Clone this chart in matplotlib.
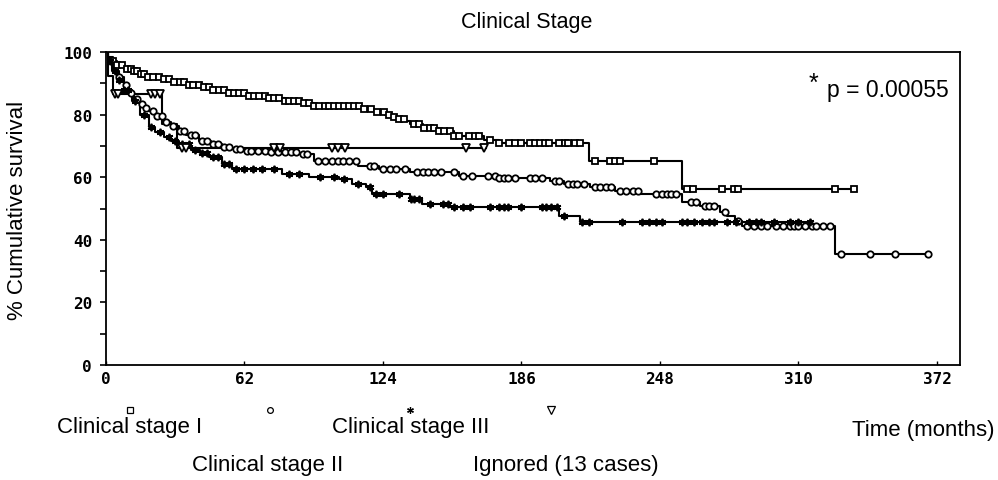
import numpy as np
import matplotlib
matplotlib.use("Agg")
import matplotlib.pyplot as plt
from matplotlib.lines import Line2D

# ---------------- data ----------------
# Kaplan-Meier step curves: event times (months) and survival (%) after each step
stage1_t = [0, 1, 3, 5, 8, 12, 15, 18, 24, 30, 36, 42, 48, 55, 64, 72, 80, 87, 93,
            114, 120, 125, 128, 131, 134, 136, 142, 149, 156, 169, 176, 216, 258]
stage1_s = [100, 98.5, 97, 95.8, 94.6, 93.8, 93, 92, 91.4, 90.4, 89.6, 88.8, 88, 87, 86,
            85.2, 84.4, 83.7, 82.7, 81.8, 80.8, 80, 79.2, 78.6, 77.8, 77, 75.8, 74.8,
            73.2, 71.9, 71, 65.2, 56.2]
stage1_end = 335
stage1_cens = [3, 5, 7, 9.4, 11, 12.6, 14, 15.7, 17, 19, 21, 23.8, 26, 28.2, 30.5, 33, 35,
               37.2, 39, 41.7, 43.9, 46.2, 48, 50.6, 52.9, 55, 57.4, 59.6, 62, 64.1, 66.3,
               68.6, 71, 73.1, 75.3, 77.5, 80, 82, 84.3, 86.5, 88.7, 91, 93.2, 95.5, 98,
               100, 102.2, 104.4, 106.7, 108.9, 111.2, 113.4, 115.6, 118.8, 121.5, 124.6,
               126.8, 129, 131.3, 133.6, 138, 140.3, 142.5, 145, 147, 149.2, 151.5, 154,
               156, 158.2, 162.7, 165, 167.2, 171.7, 176.1, 180.6, 182.9, 186, 189.6, 192,
               194.1, 196.3, 198.5, 203, 205.3, 207, 209.8, 212, 218.7, 225.4, 227.7, 230,
               245.5, 260, 262.7, 275.6, 281, 283, 326.3, 334.8]

stage2_t = [0, 1, 2, 3, 4, 6, 8, 10, 12.5, 15, 17, 19.3, 22, 26, 29, 32.7, 36, 41.7, 47,
            52, 56.5, 62, 73, 86.5, 93, 113, 122, 136, 158, 176, 198.6, 205, 216.5, 227.7,
            239, 257.7, 265.8, 274.8, 278, 281.5, 284.6, 326.3]
stage2_s = [100, 98, 96.5, 95, 94, 92, 89.5, 87, 85, 83.5, 82, 81, 79.5, 77.6, 76.2, 74.8,
            73.5, 71.6, 70.6, 69.8, 69, 68.5, 68, 67.4, 65.2, 63.6, 62.6, 61.7, 60.4, 59.7,
            58.8, 57.8, 56.9, 55.6, 54.6, 52.1, 50.8, 48.9, 47.5, 46, 44.4, 35.5]
stage2_end = 368
stage2_cens = [6, 9, 11, 14, 16, 18, 21, 23, 25, 27, 30, 33, 35, 38, 40, 43, 45, 48, 50, 53,
               55, 58, 60, 63, 65, 68, 71, 74, 77, 80, 83, 85, 88, 90, 95, 98, 101, 104, 106,
               109, 112, 118, 120, 124, 127, 130, 134, 139, 142, 144, 147, 150, 156, 160,
               164, 171, 174, 176, 178, 180, 183, 190, 192, 195, 201, 203, 207, 209, 211,
               214, 219, 221, 224, 226, 230, 233, 236, 238, 246, 249, 251, 253, 255, 262,
               264, 268, 270, 272, 277, 283, 287, 290, 293, 296, 300, 303, 306, 308, 310,
               313, 316, 318, 321, 324, 329, 342, 353, 368]

stage3_t = [0, 1, 2.7, 5, 8, 11.7, 15, 19.3, 22, 26, 29, 32.7, 38, 42, 46, 52, 56.5, 79, 91,
            104.4, 110, 116.5, 119, 136, 141.6, 153.7, 203, 212]
stage3_s = [100, 97, 94, 91, 88, 84.3, 80, 76, 74.4, 72.8, 71.6, 70.6, 68.8, 67.6, 66.5,
            64.2, 62.6, 61, 60, 59.4, 57.8, 56.9, 54.6, 53, 51.4, 50.5, 47.6, 45.7]
stage3_end = 315
stage3_cens = [2, 4, 6, 8, 10, 13, 17, 20, 24, 28, 31, 34, 37, 40, 43, 45, 48, 50, 53, 55,
               58, 62, 66, 70, 75, 82, 86.5, 96, 102, 106.7, 113, 118, 121, 124, 131, 136.5,
               138, 140, 145, 151, 153, 156, 160, 163, 171.7, 176, 178, 180, 186, 195, 197,
               199, 202, 205, 213, 216, 231, 240, 243, 246, 249, 258, 260, 263, 267, 270,
               272, 278, 282, 288, 291, 293, 299, 306, 310, 315]

ignored_t = [0, 1, 3, 25, 32]
ignored_s = [100, 92.3, 86.5, 77, 69.2]
ignored_end = 170
ignored_cens = [4, 5.5, 20, 22, 24, 34, 36, 75, 78, 101, 104, 107, 161, 169]

x_ticks = [0, 62, 124, 186, 248, 310, 372]
y_ticks = [0, 20, 40, 60, 80, 100]

group_names = ["Clinical stage I", "Clinical stage II", "Clinical stage III",
               "Ignored (13 cases)"]

# ---------------- plotting ----------------
W, H = 998, 481
fig = plt.figure(figsize=(W / 100, H / 100), dpi=100)
fig.patch.set_facecolor("white")

ax = fig.add_axes([106 / W, 1 - 366 / H, (960 - 106) / W, (366 - 53) / H])

def surv_at(tk, sk, t):
    idx = np.searchsorted(np.asarray(tk), np.asarray(t, float), side="right") - 1
    return np.asarray(sk)[idx]

groups = [
    (stage1_t, stage1_s, stage1_end, stage1_cens, dict(marker="s", ms=4.8)),
    (stage2_t, stage2_s, stage2_end, stage2_cens, dict(marker="o", ms=4.6)),
    (stage3_t, stage3_s, stage3_end, stage3_cens, dict(marker=(6, 2, 0), ms=5.4)),
    (ignored_t, ignored_s, ignored_end, ignored_cens, dict(marker="v", ms=5.8)),
]

for tk, sk, tend, cens, mk in groups:
    xs = list(tk) + [tend]
    ys = list(sk) + [sk[-1]]
    ax.step(xs, ys, where="post", color="black", lw=1.5, zorder=2)
    cy = surv_at(tk, sk, cens)
    ax.plot(cens, cy, ls="none", color="black", mfc="white", mec="black", mew=1.3,
            zorder=3, **mk)

ax.set_xlim(0, 382.3)
ax.set_ylim(0, 100)
ax.set_xticks(x_ticks)
ax.set_yticks(y_ticks)
ax.set_yticks(np.arange(0, 101, 10), minor=True)
for sp in ax.spines.values():
    sp.set_linewidth(1.3)
    sp.set_color("black")
ax.tick_params(axis="y", which="both", direction="out", length=4, width=1.2, pad=6)
ax.tick_params(axis="x", which="both", direction="in", length=3, width=1.0, pad=4)
mono = dict(family=["DejaVu Sans Mono"], weight="bold", size=11.5)
ax.set_xticklabels([str(v) for v in x_ticks], fontdict=mono)
ax.set_yticklabels([str(v) for v in y_ticks], fontdict=mono)

sans = ["Liberation Sans", "DejaVu Sans"]
fs = 16

def ftext(px, py, s, **kw):
    kw.setdefault("family", sans)
    kw.setdefault("size", fs)
    kw.setdefault("va", "baseline")
    fig.text(px / W, 1 - py / H, s, **kw)

ftext(527, 28, "Clinical Stage", ha="center", size=15.5)
ftext(18, 210, "% Cumulative survival", ha="center", va="center", rotation=90, size=16)
ftext(827, 97, "p = 0.00055", ha="left", size=16.5)
ftext(813, 91, "*", ha="center", size=18)

ftext(57, 433, group_names[0], ha="left")
ftext(192, 471, group_names[1], ha="left")
ftext(332, 433, group_names[2], ha="left")
ftext(473, 471, group_names[3], ha="left")
ftext(995, 436, "Time (months)", ha="right")

# legend symbols under the axis
leg_px = [130, 270, 410, 551]
for (tk, sk, tend, cens, mk), lx in zip(groups, leg_px):
    m = dict(mk)
    m["ms"] = m["ms"] * 0.9
    fig.add_artist(Line2D([lx / W], [1 - 411 / H], transform=fig.transFigure,
                          ls="none", color="black", mfc="white", mec="black",
                          mew=0.9, **m))

fig.savefig("out.png", dpi=100, facecolor="white")
